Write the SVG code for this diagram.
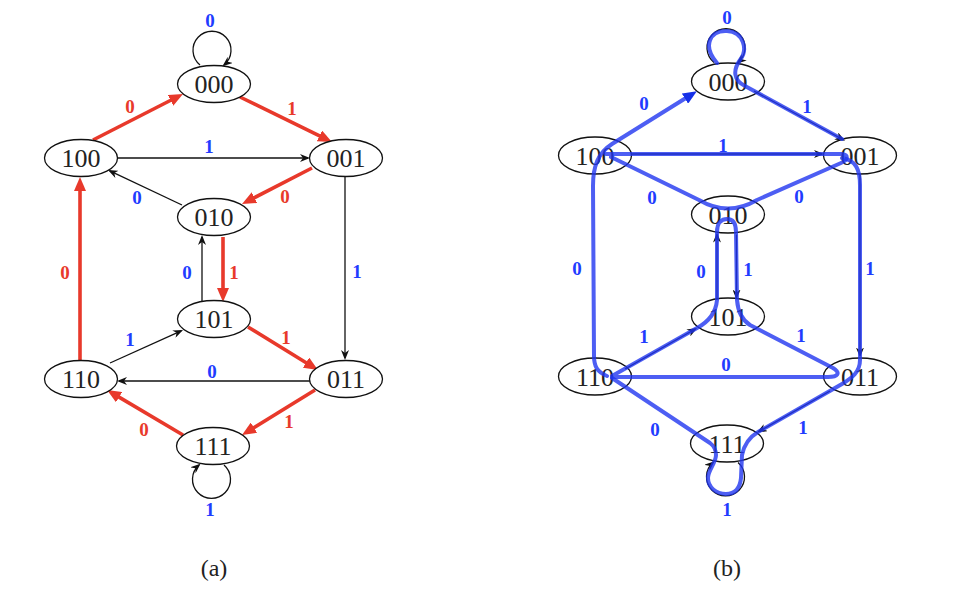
<svg xmlns="http://www.w3.org/2000/svg" width="958" height="606" viewBox="0 0 958 606">
<defs>
<style>
.node ellipse{fill:#fff;stroke:#111;stroke-width:1.3}
.node text{font-family:"Liberation Serif",serif;font-size:26px;fill:#222;text-anchor:middle}
.lbl{font-family:"Liberation Serif",serif;font-weight:bold;font-size:19px;text-anchor:middle}
.b{fill:#1f3cff}
.r{fill:#e8392b}
.cap{font-family:"Liberation Serif",serif;font-size:24px;fill:#222;text-anchor:middle}
.red{stroke:#e8392b;stroke-width:3.6;fill:none;marker-end:url(#ar)}
.blk{stroke:#111;stroke-width:1.3;fill:none;marker-end:url(#ak)}
.blue{stroke:#2036f0;stroke-opacity:0.8;stroke-width:4;fill:none;stroke-linejoin:round;stroke-linecap:round}
</style>
<marker id="ar" viewBox="0 0 14 12" markerWidth="14" markerHeight="12" refX="3" refY="6" orient="auto" markerUnits="userSpaceOnUse"><path d="M0,0 L14,6 L0,12 Z" fill="#e8392b"/></marker>
<marker id="ab" viewBox="0 0 14 12" markerWidth="14" markerHeight="12" refX="3" refY="6" orient="auto" markerUnits="userSpaceOnUse"><path d="M0,0 L14,6 L0,12 Z" fill="#1530e8"/></marker>
<marker id="ak" viewBox="0 0 10 8" markerWidth="10" markerHeight="8" refX="8" refY="4" orient="auto" markerUnits="userSpaceOnUse"><path d="M0,0 L10,4 L0,8 L3,4 Z" fill="#111"/></marker>
</defs>
<rect width="958" height="606" fill="#fff"/>

<g id="connectors-a">
<path class="red" d="M93,140 L173.2,99"/>
<path class="red" d="M240,97 L322.1,137.2"/>
<path class="blk" d="M118,158 L308,158"/>
<path class="blk" d="M182,205 L109.8,170.9"/>
<path class="red" d="M312,168 L251.8,199"/>
<path class="blk" d="M345,177 L345,358"/>
<path class="red" d="M223,237 L223,291"/>
<path class="blk" d="M202,302 L202,237"/>
<path class="red" d="M80,360 L80,188"/>
<path class="blk" d="M110,363 L181.2,330.8"/>
<path class="red" d="M248,327 L308.6,364.2"/>
<path class="blk" d="M310,381 L119,381"/>
<path class="red" d="M315,390 L251.4,429.2"/>
<path class="red" d="M183,435 L116.5,395.6"/>
<path class="blk" d="M200,65 A19 19 0 1 1 224,65"/>
<path class="blk" d="M224,465 A19 19 0 1 1 199,465"/>
<text class="lbl b" x="210" y="27">0</text>
<text class="lbl r" x="130" y="113">0</text>
<text class="lbl r" x="292" y="115">1</text>
<text class="lbl b" x="209" y="153">1</text>
<text class="lbl b" x="137" y="204">0</text>
<text class="lbl r" x="285" y="203">0</text>
<text class="lbl r" x="65" y="279">0</text>
<text class="lbl b" x="187" y="279">0</text>
<text class="lbl r" x="234" y="279">1</text>
<text class="lbl b" x="357" y="278">1</text>
<text class="lbl b" x="130" y="346">1</text>
<text class="lbl r" x="286" y="344">1</text>
<text class="lbl b" x="212" y="378">0</text>
<text class="lbl r" x="144" y="436">0</text>
<text class="lbl r" x="289" y="428">1</text>
<text class="lbl b" x="210" y="516">1</text>
</g>

<g id="a000" class="node"><ellipse cx="214" cy="84" rx="36.5" ry="18.5"/><text x="214" y="93">000</text></g>
<g id="a100" class="node"><ellipse cx="81" cy="158" rx="36.5" ry="18.5"/><text x="81" y="167">100</text></g>
<g id="a001" class="node"><ellipse cx="346" cy="158" rx="36.5" ry="18.5"/><text x="346" y="167">001</text></g>
<g id="a010" class="node"><ellipse cx="214" cy="217" rx="36.5" ry="18.5"/><text x="214" y="226">010</text></g>
<g id="a101" class="node"><ellipse cx="214" cy="319" rx="36.5" ry="18.5"/><text x="214" y="328">101</text></g>
<g id="a110" class="node"><ellipse cx="81" cy="379" rx="36.5" ry="18.5"/><text x="81" y="388">110</text></g>
<g id="a011" class="node"><ellipse cx="346" cy="379" rx="36.5" ry="18.5"/><text x="346" y="388">011</text></g>
<g id="a111" class="node"><ellipse cx="213" cy="446" rx="36.5" ry="18.5"/><text x="213" y="455">111</text></g>
<text class="cap" x="214" y="576">(a)</text>

<g id="b000" class="node"><ellipse cx="728" cy="81.5" rx="36.5" ry="18.5"/><text x="728" y="90.5">000</text></g>
<g id="b100" class="node"><ellipse cx="595" cy="155.5" rx="36.5" ry="18.5"/><text x="595" y="164.5">100</text></g>
<g id="b001" class="node"><ellipse cx="860" cy="155.5" rx="36.5" ry="18.5"/><text x="860" y="164.5">001</text></g>
<g id="b010" class="node"><ellipse cx="728" cy="214.5" rx="36.5" ry="18.5"/><text x="728" y="223.5">010</text></g>
<g id="b101" class="node"><ellipse cx="728" cy="316.5" rx="36.5" ry="18.5"/><text x="728" y="325.5">101</text></g>
<g id="b110" class="node"><ellipse cx="595" cy="376.5" rx="36.5" ry="18.5"/><text x="595" y="385.5">110</text></g>
<g id="b011" class="node"><ellipse cx="860" cy="376.5" rx="36.5" ry="18.5"/><text x="860" y="385.5">011</text></g>
<g id="b111" class="node"><ellipse cx="727" cy="443.5" rx="36.5" ry="18.5"/><text x="727" y="452.5">111</text></g>
<text class="cap" x="727" y="576">(b)</text>

<g id="connectors-b">
<path class="blk" d="M632,154 L822,154"/>
<path class="blk" d="M754,91 L843.2,139.7"/>
<path class="blk" d="M860,174.5 L860,355.5"/>
<path class="blk" d="M830,391 L758.7,431.6"/>
<path class="blk" d="M736.5,234.5 L736.5,297.5"/>
<path class="blk" d="M717,299.5 L717,234.5"/>
<path class="blk" d="M625,369 L695.3,329"/>
<path class="blk" d="M714,62.5 A19 19 0 1 1 738,62.5"/>
<path class="blk" d="M738,462.5 A19 19 0 1 1 713,462.5"/>
<path class="blue" d="M607,376 C597,372 594,366 594,356 L593,186 C593,166 598,153 612,144 L687.5,97" marker-end="url(#ab)"/>
<path class="blue" d="M606,154 L842,154 C849,155 848,160 841,163 L757,200 Q728,217 699,200 L611,157"/>
<path class="blue" d="M717,63 C702,46 710,30 727,31 C744,32 748,50 740,60 C733,70 733,80 745,86 L842,139"/>
<path class="blue" d="M842,158 C856,160 860,170 860,185 L860,360 C860,372 852,378 842,384 L758,432 C748,438 744,445 742,455 L741,478 C740,488 735,494 726,494 C716,494 708,487 708,478 C708,470 716,463 716,455 C716,450 714,446 710,443 L612,378"/>
<path class="blue" d="M612,376 L697,328 C710,321 716,312 717,300 L717,232 C717,222 722,219 727,219 C733,219 736,223 736,232 L737,300 C738,312 742,320 750,325 L833,368 C841,373 838,377 828,377 L612,377"/>
<text class="lbl b" x="727" y="24">0</text>
<text class="lbl b" x="644" y="110">0</text>
<text class="lbl b" x="807" y="113">1</text>
<text class="lbl b" x="723" y="152">1</text>
<text class="lbl b" x="652" y="204">0</text>
<text class="lbl b" x="799" y="203">0</text>
<text class="lbl b" x="577" y="275">0</text>
<text class="lbl b" x="701" y="278">0</text>
<text class="lbl b" x="748" y="276">1</text>
<text class="lbl b" x="870" y="275">1</text>
<text class="lbl b" x="644" y="343">1</text>
<text class="lbl b" x="801" y="342">1</text>
<text class="lbl b" x="726" y="371">0</text>
<text class="lbl b" x="655" y="436">0</text>
<text class="lbl b" x="803" y="434">1</text>
<text class="lbl b" x="727" y="516">1</text>
</g>
</svg>
